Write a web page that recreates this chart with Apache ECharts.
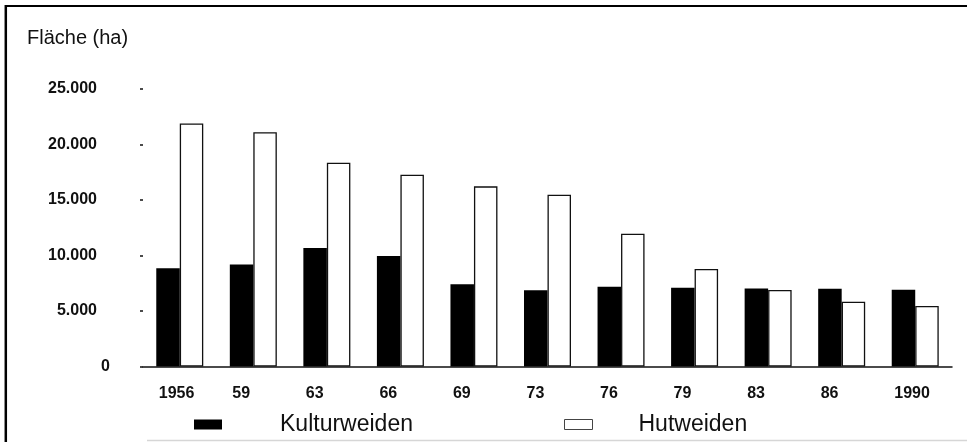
<!DOCTYPE html>
<html>
<head>
<meta charset="utf-8">
<script src="https://cdn.jsdelivr.net/npm/echarts@6/dist/echarts.min.js"></script>
<style>
  html, body { margin: 0; padding: 0; background: #fff; }
  #chart { width: 967px; height: 442px; }
</style>
</head>
<body>
<div id="chart"></div>
<script>
// Weideflächen nach Erhebungsjahr
const years = ['1956', '59', '63', '66', '69', '73', '76', '79', '83', '86', '1990'];
const kulturweiden = [8850, 9200, 10670, 9950, 7400, 6870, 7190, 7100, 7030, 7000, 6920];
const hutweiden = [21900, 21100, 18360, 17280, 16230, 15480, 11970, 8780, 6890, 5840, 5450];
const yTicks = [0, 5000, 10000, 15000, 20000, 25000];

const FONT = '"Liberation Sans", Arial, Helvetica, sans-serif';

function germanThousands(v) {
  return String(v).replace(/\B(?=(\d{3})+(?!\d))/g, '.');
}

const chart = echarts.init(document.getElementById('chart'), null, { renderer: 'canvas' });

chart.setOption({
  backgroundColor: '#fff',
  animation: false,
  title: {
    text: 'Fläche (ha)',
    left: 27,
    top: 28,
    padding: 0,
    textStyle: { fontFamily: FONT, fontSize: 20, fontWeight: 'normal', color: '#111' }
  },
  legend: [
    {
      data: [{ name: 'Kulturweiden', icon: 'rect' }],
      left: 194,
      top: 413,
      padding: 0,
      itemWidth: 28,
      itemHeight: 10,
      selectedMode: false,
      itemStyle: { color: '#000', borderWidth: 0 },
      formatter: '{a|{name}}',
      textStyle: {
        fontFamily: FONT, fontSize: 23, color: '#111',
        rich: { a: { fontFamily: FONT, fontSize: 23, color: '#111', padding: [0, 0, 0, 53] } }
      }
    },
    {
      data: [{ name: 'Hutweiden', icon: 'rect' }],
      left: 564,
      top: 413,
      padding: 0,
      itemWidth: 28,
      itemHeight: 10,
      selectedMode: false,
      itemStyle: { color: '#fff', borderColor: '#444', borderWidth: 1 },
      formatter: '{a|{name}}',
      textStyle: {
        fontFamily: FONT, fontSize: 23, color: '#111',
        rich: { a: { fontFamily: FONT, fontSize: 23, color: '#111', padding: [0, 0, 0, 41] } }
      }
    }
  ],
  grid: { left: 143, right: 15, top: 89, bottom: 75.5, containLabel: false },
  xAxis: {
    type: 'category',
    data: years,
    axisLine: { show: true, lineStyle: { color: '#111', width: 1.5 } },
    axisTick: { show: false },
    axisLabel: {
      margin: 19,
      formatter: v => '{c|' + v + '}',
      rich: {
        c: { fontFamily: FONT, fontSize: 16, fontWeight: 'bold', color: '#111', width: 42, align: 'left' }
      }
    },
    splitLine: { show: false }
  },
  yAxis: {
    type: 'value',
    min: yTicks[0],
    max: yTicks[yTicks.length - 1],
    interval: 5000,
    axisLine: { show: false },
    axisTick: { show: true, length: 3, lineStyle: { color: '#111', width: 1.5 } },
    splitLine: { show: false },
    axisLabel: {
      margin: 33,
      formatter: v => v === 0 ? '{z|0}' : '{n|' + germanThousands(v) + '}',
      rich: {
        z: { fontFamily: FONT, fontSize: 16, fontWeight: 'bold', color: '#111' },
        n: { fontFamily: FONT, fontSize: 16, fontWeight: 'bold', color: '#111', padding: [0, 13, 0, 0] }
      }
    }
  },
  series: [
    {
      name: 'Kulturweiden',
      type: 'bar',
      data: kulturweiden,
      barWidth: 23.5,
      barGap: '0%',
      itemStyle: { color: '#000' }
    },
    {
      name: 'Hutweiden',
      type: 'bar',
      data: hutweiden,
      barWidth: 23.5,
      barGap: '0%',
      itemStyle: { color: '#fff', borderColor: '#111', borderWidth: 1.3 }
    }
  ],
  graphic: [
    // Rahmen oben und links
    { type: 'line', shape: { x1: 5, y1: 6, x2: 967, y2: 6 }, style: { stroke: '#000', lineWidth: 2.2 } },
    { type: 'line', shape: { x1: 5.8, y1: 5, x2: 5.8, y2: 442 }, style: { stroke: '#000', lineWidth: 2.5 } },
    // schwache untere Kante
    { type: 'line', shape: { x1: 147, y1: 440.5, x2: 967, y2: 440.5 }, style: { stroke: '#d6d6d6', lineWidth: 1.5 } }
  ]
});
</script>
</body>
</html>
